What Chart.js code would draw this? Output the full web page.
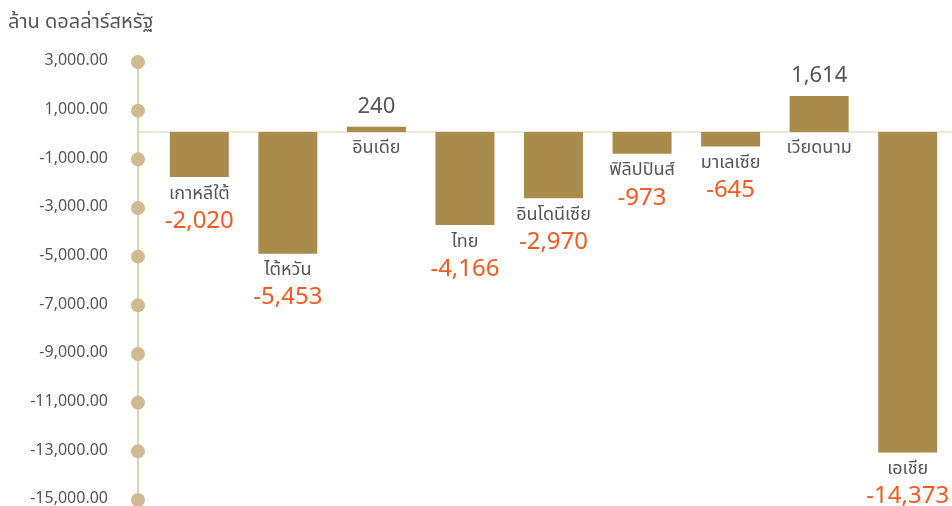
<!DOCTYPE html>
<html>
<head>
<meta charset="utf-8">
<script src="https://cdn.jsdelivr.net/npm/chart.js@4.4.1/dist/chart.umd.min.js"></script>
<style>
  html, body { margin: 0; padding: 0; background: #fff; }
  #wrap { width: 952px; height: 506px; }
</style>
</head>
<body>
<div id="wrap"><canvas id="chart"></canvas></div>
<script>
'use strict';

const countries = ['เกาหลีใต้', 'ไต้หวัน', 'อินเดีย', 'ไทย', 'อินโดนีเซีย', 'ฟิลิปปินส์', 'มาเลเซีย', 'เวียดนาม', 'เอเชีย'];
const balance = [-2020, -5453, 240, -4166, -2970, -973, -645, 1614, -14373];
const tickValues = [3000, 1000, -1000, -3000, -5000, -7000, -9000, -11000, -13000, -15000];
const unitTitle = 'ล้าน ดอลล่าร์สหรัฐ';

const FONT = "'Noto Sans Thai', 'Noto Sans', 'DejaVu Sans', sans-serif";
const GREY = '#555555';
const ORANGE = '#f15a22';

// axis line with round dots, and the zero line
const axisDecor = {
  id: 'axisDecor',
  beforeDatasetsDraw(chart) {
    const { ctx, chartArea, scales } = chart;
    const y = scales.y;
    const ax = chartArea.left - 17;
    const z = scales.yb.getPixelForValue(0);
    ctx.save();
    ctx.strokeStyle = '#e8ddc6';
    ctx.lineWidth = 1.5;
    ctx.beginPath();
    ctx.moveTo(ax, z);
    ctx.lineTo(chartArea.right, z);
    ctx.stroke();

    ctx.strokeStyle = '#e0d3b8';
    ctx.lineWidth = 2;
    ctx.beginPath();
    ctx.moveTo(ax, y.getPixelForValue(tickValues[0]));
    ctx.lineTo(ax, chart.height);
    ctx.stroke();

    ctx.fillStyle = '#cfba92';
    y.ticks.forEach(t => {
      ctx.beginPath();
      ctx.arc(ax, y.getPixelForValue(t.value), 7, 0, Math.PI * 2);
      ctx.fill();
    });
    ctx.restore();
  }
};

// country name and value next to each bar
const barLabels = {
  id: 'barLabels',
  afterDatasetsDraw(chart) {
    const { ctx } = chart;
    const meta = chart.getDatasetMeta(0);
    ctx.save();
    ctx.textAlign = 'center';
    meta.data.forEach((bar, i) => {
      const v = balance[i];
      const txt = v.toLocaleString('en-US');
      if (v < 0) {
        ctx.textBaseline = 'top';
        ctx.fillStyle = GREY;
        ctx.font = '18px ' + FONT;
        ctx.fillText(countries[i], bar.x, bar.y + 9);
        ctx.fillStyle = ORANGE;
        ctx.font = '24px ' + FONT;
        ctx.fillText(txt, bar.x, bar.y + 34);
      } else {
        ctx.textBaseline = 'bottom';
        ctx.fillStyle = GREY;
        ctx.font = '22px ' + FONT;
        ctx.fillText(txt, bar.x, bar.y - 7);
        ctx.textBaseline = 'top';
        ctx.font = '18px ' + FONT;
        ctx.fillText(countries[i], bar.x, bar.base + 8);
      }
    });
    ctx.restore();
  }
};

const ctx = document.getElementById('chart').getContext('2d');
const chart = new Chart(ctx, {
  type: 'bar',
  data: {
    labels: countries,
    datasets: [{
      data: balance,
      yAxisID: 'yb',
      backgroundColor: '#a98b4b',
      barPercentage: 1,
      categoryPercentage: 0.666
    }]
  },
  options: {
    responsive: true,
    maintainAspectRatio: false,
    animation: false,
    layout: { padding: { left: 8, right: 0, top: 0, bottom: 6 } },
    plugins: {
      legend: { display: false },
      tooltip: { enabled: false },
      title: {
        display: true,
        text: unitTitle,
        align: 'start',
        color: GREY,
        font: { size: 20, family: FONT, weight: 'normal' },
        padding: { top: 12, bottom: 26 }
      }
    },
    scales: {
      x: { display: false },
      y: {
        min: -15000,
        max: 3000,
        afterBuildTicks: s => { s.ticks = tickValues.map(v => ({ value: v })); },
        afterFit: s => { s.width = 147; },
        grid: { display: true, drawOnChartArea: false, drawTicks: true, tickLength: 47, color: 'rgba(0,0,0,0)' },
        border: { display: false },
        ticks: {
          padding: 0,
          color: GREY,
          font: { size: 16, family: FONT, lineHeight: 0.75 },
          callback: v => v.toLocaleString('en-US', { minimumFractionDigits: 2, maximumFractionDigits: 2 })
        }
      },
      yb: {
        display: false,
        min: -16500,
        max: 3140
      }
    }
  },
  plugins: [axisDecor, barLabels]
});
</script>
</body>
</html>
